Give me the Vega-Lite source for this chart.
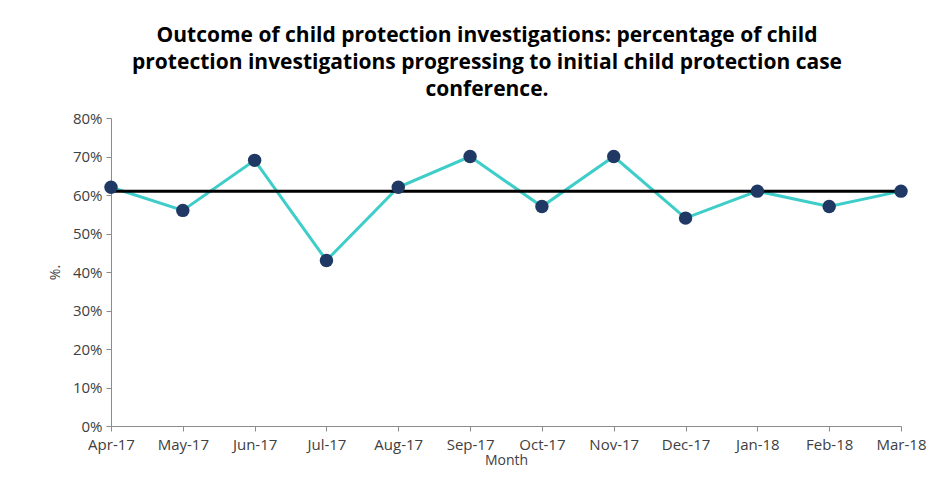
{
  "$schema": "https://vega.github.io/schema/vega-lite/v6.json",
  "width": 790,
  "height": 308,
  "autosize": "none",
  "padding": {"left": 111, "top": 118, "right": 35, "bottom": 62},
  "background": "white",
  "title": {
    "text": ["Outcome of child protection investigations: percentage of child", "protection investigations progressing to initial child protection case", "conference."],
    "font": "Open Sans",
    "fontSize": 21,
    "fontWeight": "bold",
    "color": "#000000",
    "anchor": "middle",
    "lineHeight": 27,
    "dx": -19,
    "offset": 11
  },
  "data": {
    "values": [
      {"month": "Apr-17", "pct": 62, "target": 61},
      {"month": "May-17", "pct": 56, "target": 61},
      {"month": "Jun-17", "pct": 69, "target": 61},
      {"month": "Jul-17", "pct": 43, "target": 61},
      {"month": "Aug-17", "pct": 62, "target": 61},
      {"month": "Sep-17", "pct": 70, "target": 61},
      {"month": "Oct-17", "pct": 57, "target": 61},
      {"month": "Nov-17", "pct": 70, "target": 61},
      {"month": "Dec-17", "pct": 54, "target": 61},
      {"month": "Jan-18", "pct": 61, "target": 61},
      {"month": "Feb-18", "pct": 57, "target": 61},
      {"month": "Mar-18", "pct": 61, "target": 61}
    ]
  },
  "encoding": {
    "x": {
      "field": "month",
      "type": "ordinal",
      "sort": null,
      "scale": {"type": "point", "padding": 0},
      "axis": {
        "title": "Month",
        "titleFont": "Open Sans",
        "titleFontSize": 14,
        "titleFontWeight": "normal",
        "titleColor": "#404040",
        "titlePadding": 1,
        "labelAngle": 0,
        "labelFont": "Open Sans",
        "labelFontSize": 15,
        "labelColor": "#404040",
        "labelPadding": 6,
        "labelOverlap": false,
        "domainColor": "#8c8c8c",
        "tickColor": "#8c8c8c",
        "tickSize": 5,
        "grid": false
      }
    },
    "y": {
      "field": "pct",
      "type": "quantitative",
      "title": "%.",
      "scale": {"domain": [0, 80]},
      "axis": {
        "title": "%.",
        "values": [0, 10, 20, 30, 40, 50, 60, 70, 80],
        "labelExpr": "datum.value + '%'",
        "labelOverlap": false,
        "grid": false
      }
    }
  },
  "layer": [
    {
      "mark": {"type": "line", "color": "#3ECDC9", "strokeWidth": 3}
    },
    {
      "mark": {"type": "line", "color": "#000000", "strokeWidth": 3},
      "encoding": {
        "y": {
          "field": "target",
          "type": "quantitative",
          "title": "%.",
          "axis": {
            "title": "%.",
            "values": [0, 10, 20, 30, 40, 50, 60, 70, 80],
            "labelExpr": "datum.value + '%'",
            "labelOverlap": false,
            "grid": false
          }
        }
      }
    },
    {
      "mark": {"type": "point", "filled": true, "color": "#1F3864", "size": 180, "opacity": 1}
    }
  ],
  "config": {
    "view": {"stroke": null},
    "axisY": {
      "titleFont": "Open Sans",
      "titleFontSize": 14,
      "titleFontWeight": "normal",
      "titleColor": "#404040",
      "titlePadding": 10,
      "labelFont": "Open Sans",
      "labelFontSize": 15,
      "labelColor": "#404040",
      "labelPadding": 4,
      "domainColor": "#8c8c8c",
      "tickColor": "#8c8c8c",
      "tickSize": 5
    }
  }
}
